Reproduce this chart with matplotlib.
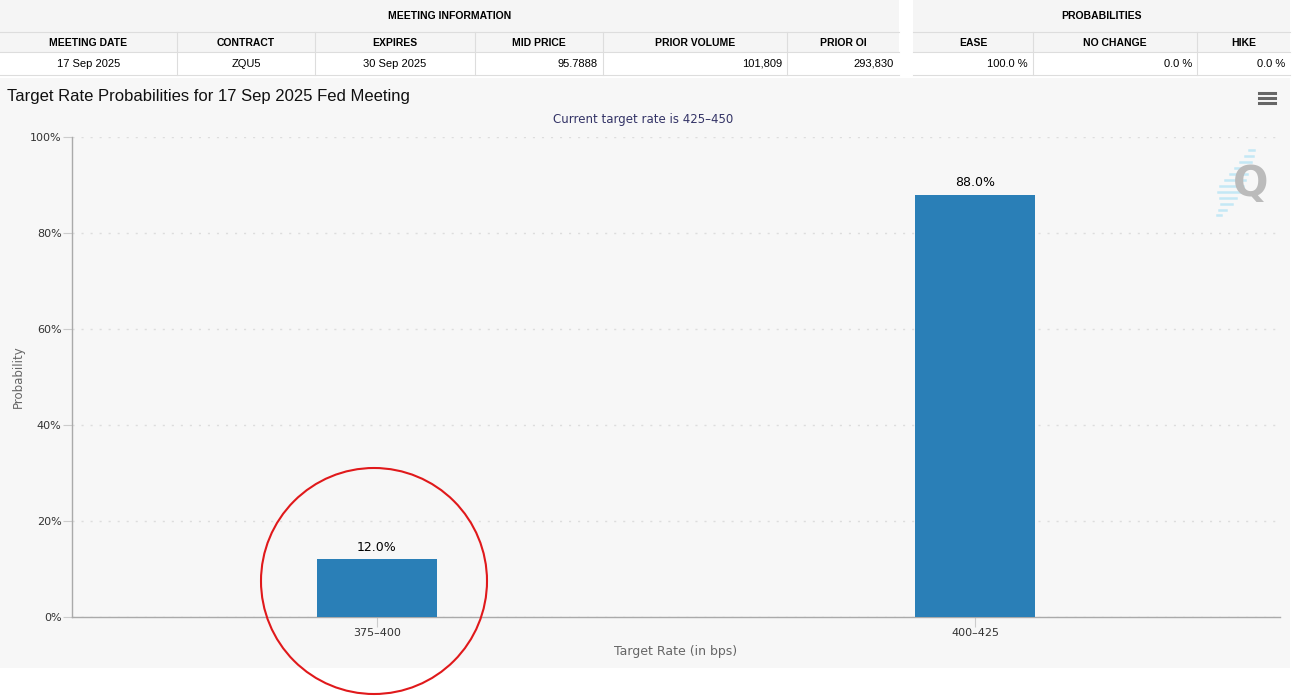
import matplotlib
matplotlib.use("Agg")
import matplotlib.pyplot as plt
from matplotlib.patches import Rectangle, Ellipse
from matplotlib.lines import Line2D

# ---- data ----
rates = ["375\u2013400", "400\u2013425"]
probs = [12.0, 88.0]
yticks = [0, 20, 40, 60, 80, 100]

left_cols = ["MEETING DATE", "CONTRACT", "EXPIRES", "MID PRICE", "PRIOR VOLUME", "PRIOR OI"]
left_vals = ["17 Sep 2025", "ZQU5", "30 Sep 2025", "95.7888", "101,809", "293,830"]
left_align = ["center", "center", "center", "right", "right", "right"]
right_cols = ["EASE", "NO CHANGE", "HIKE"]
right_vals = ["100.0 %", "0.0 %", "0.0 %"]

title = "Target Rate Probabilities for 17 Sep 2025 Fed Meeting"
subtitle = "Current target rate is 425\u2013450"

W, H = 1292, 697
fig = plt.figure(figsize=(W / 100, H / 100), dpi=100)
fig.patch.set_facecolor("white")

fx = lambda x: x / W
fy = lambda y: 1 - y / H

def rect(x0, y0, x1, y1, color):
    fig.add_artist(Rectangle((fx(x0), fy(y1)), fx(x1) - fx(x0), fy(y0) - fy(y1),
                             transform=fig.transFigure, facecolor=color, edgecolor="none", zorder=0))

def line(x0, y0, x1, y1, color="#dddddd", lw=0.8, z=1):
    fig.add_artist(Line2D([fx(x0), fx(x1)], [fy(y0), fy(y1)], transform=fig.transFigure,
                          color=color, lw=lw, zorder=z))

# ---- table ----
tfont = dict(family="Liberation Sans", fontweight="bold", fontsize=7.5, color="black")
vfont = dict(family="Liberation Sans", fontsize=8, color="black")

def table(x0, x1, bounds, header, cols, vals, aligns):
    rect(x0, 0, x1, 53, "#f5f5f5")
    rect(x0, 53, x1, 75, "white")
    line(x0, 32, x1, 32)
    line(x0, 52, x1, 52)
    line(x0, 75, x1, 75)
    fig.text(fx((x0 + x1) / 2), fy(16), header, ha="center", va="center", **tfont)
    for i, (c, v, a) in enumerate(zip(cols, vals, aligns)):
        a0, a1 = bounds[i], bounds[i + 1]
        if i > 0:
            line(a0, 32, a0, 75)
        fig.text(fx((a0 + a1) / 2), fy(42.5), c, ha="center", va="center", **tfont)
        if a == "center":
            fig.text(fx((a0 + a1) / 2), fy(64), v, ha="center", va="center", **vfont)
        else:
            fig.text(fx(a1 - 5), fy(64), v, ha="right", va="center", **vfont)

table(0, 899, [0, 177, 315, 475, 603, 787, 899], "MEETING INFORMATION",
      left_cols, left_vals, left_align)
table(913, 1290, [913, 1033, 1197, 1290], "PROBABILITIES",
      right_cols, right_vals, ["right"] * 3)

# ---- chart panel ----
rect(0, 78, 1290, 668, "#f7f7f7")

fig.text(fx(7), fy(96), title, ha="left", va="center", family="Liberation Sans",
         fontsize=12, color="#111111")
fig.text(fx(643), fy(119), subtitle, ha="center", va="center", fontsize=8.5, color="#333366")

# menu icon
for yy in (93, 98, 103):
    line(1259, yy, 1275, yy, color="#666666", lw=2.2, z=3)

# watermark
blue_rows = [(150, 1249, 1254), (156, 1245, 1253), (162, 1240, 1251), (168, 1235, 1249),
             (174, 1230, 1247), (180, 1225, 1245), (186, 1220, 1243), (192, 1218, 1240),
             (198, 1220, 1236), (204, 1221, 1232), (210, 1219, 1226), (215, 1217, 1221)]
for yy, a, b in blue_rows:
    line(a, yy, b, yy, color="#c4e8f5", lw=1.8, z=2)
fig.text(fx(1251), fy(184), "Q", ha="center", va="center", fontsize=30, fontweight="bold",
         color="#bbbbbb", zorder=3)

# ---- bar chart ----
ax = fig.add_axes([fx(72), fy(617), fx(1280) - fx(72), fy(137) - fy(617)])
ax.set_facecolor("none")
x = list(range(len(rates)))
bars = ax.bar(x, probs, width=0.2, color="#2a7fb7", zorder=3)
for b, p in zip(bars, probs):
    ax.text(b.get_x() + b.get_width() / 2, p + 1.2, f"{p:.1f}%", ha="center", va="bottom",
            fontsize=9, color="black")

ax.set_xlim(-0.51, len(rates) - 1 + 0.51)
ax.set_ylim(0, 100)
ax.set_xticks(x)
ax.set_xticklabels(rates)
ax.set_yticks(yticks)
ax.set_yticklabels([f"{t}%" for t in yticks])
ax.tick_params(axis="x", length=7, color="#cccccc", labelsize=8, labelcolor="#333333", pad=1)
ax.tick_params(axis="y", length=6.5, color="#cccccc", labelsize=8, labelcolor="#333333", pad=1)

ax.yaxis.grid(True, color="#dddddd", lw=1, linestyle=(0, (1.5, 5)))
ax.set_axisbelow(True)
for s in ("top", "right"):
    ax.spines[s].set_visible(False)
for s in ("left", "bottom"):
    ax.spines[s].set_color("#aaaaaa")
    ax.spines[s].set_linewidth(1)

ax.set_xlabel("Target Rate (in bps)", fontsize=9, color="#666666", labelpad=5)
fig.text(fx(18), fy(377), "Probability", rotation=90, ha="center", va="center",
         fontsize=8.5, color="#666666")

# red highlight circle
fig.add_artist(Ellipse((fx(374), fy(581)), fx(226), 226 / H, transform=fig.transFigure,
                       facecolor="none", edgecolor="#e0191b", lw=1.5, zorder=5))

fig.savefig("out.png", dpi=100)
